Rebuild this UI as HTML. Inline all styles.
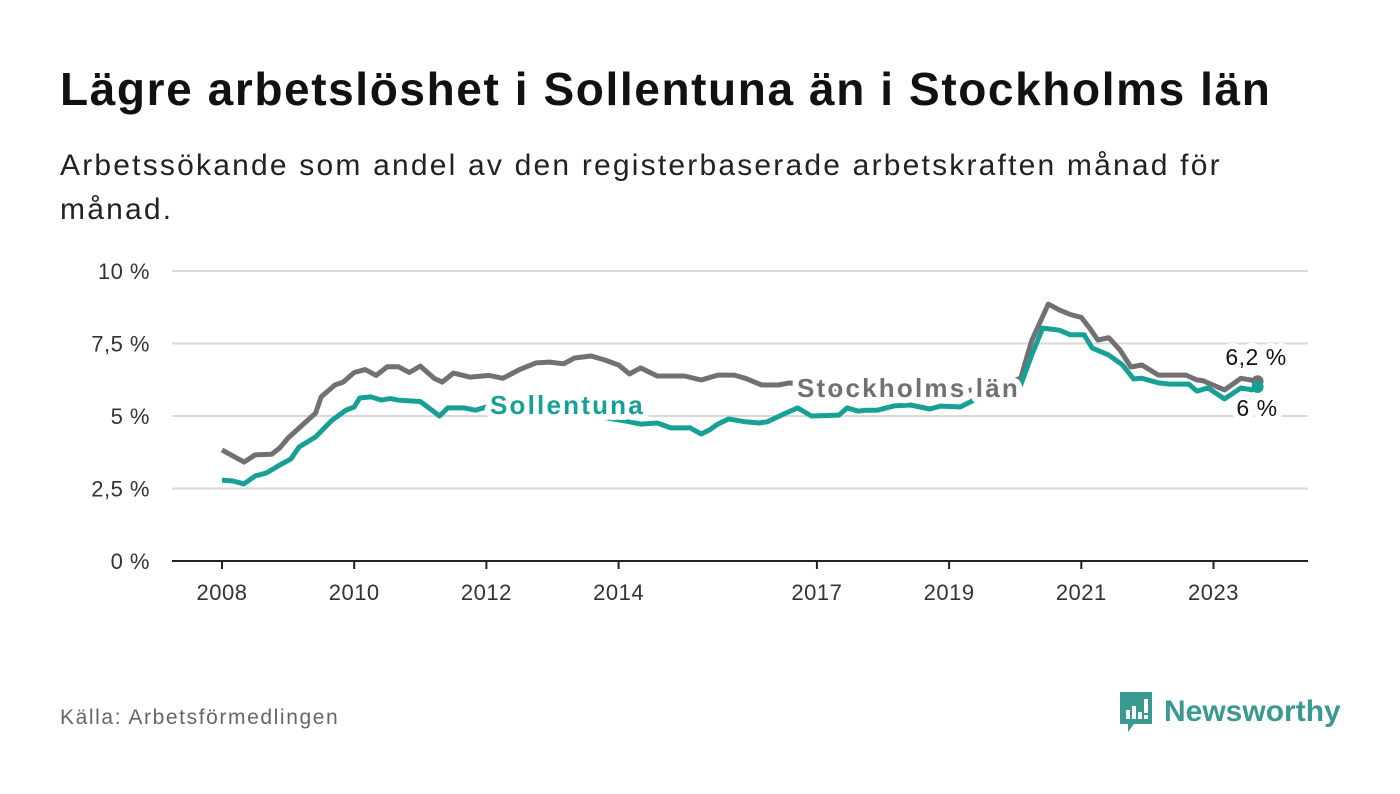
<!DOCTYPE html>
<html><head><meta charset="utf-8"><style>
body{margin:0;background:#fff;width:1400px;height:794px;overflow:hidden;font-family:"Liberation Sans",sans-serif}
h1{position:absolute;left:60px;top:62px;margin:0;font-size:46px;font-weight:bold;color:#111;letter-spacing:1.6px;white-space:nowrap}
.sub{position:absolute;left:60px;top:144px;width:1330px;font-size:30px;line-height:44px;color:#222;letter-spacing:2.2px;white-space:nowrap}
.src{position:absolute;left:60px;top:706px;font-size:21px;color:#666;letter-spacing:1.6px}
.logo{position:absolute;left:1118px;top:690px;display:flex;align-items:center}
.logo span{font-size:30px;font-weight:bold;color:#3a9a92;margin-left:10px}
svg text{font-family:"Liberation Sans",sans-serif}
</style></head><body>
<h1>Lägre arbetslöshet i Sollentuna än i Stockholms län</h1>
<div class="sub">Arbetssökande som andel av den registerbaserade arbetskraften månad för<br>månad.</div>
<svg id="chart" width="1400" height="794" style="position:absolute;left:0;top:0"></svg>
<div class="src">Källa: Arbetsförmedlingen</div>
<div class="logo">
<svg width="36" height="44" viewBox="0 0 36 44"><path d="M2 2h32v32H16l-6 8v-8H2z" fill="#3a9a92"/><rect x="8" y="20" width="4" height="9" fill="#fff"/><rect x="14" y="16" width="4" height="13" fill="#fff"/><rect x="20" y="22" width="4" height="7" fill="#fff"/><rect x="26" y="9" width="4" height="14" fill="#fff"/><rect x="26" y="25" width="4" height="4" fill="#fff"/></svg>
<span>Newsworthy</span></div>
<script>
const yTicks=[0,2.5,5,7.5,10];
const yTickLabels=["0 %","2,5 %","5 %","7,5 %","10 %"];
const xTicks=[2008,2010,2012,2014,2017,2019,2021,2023];
const sthlmMonths=[0,4,6,9,10.5,12,15,17,18,20.5,22,24,26,28,30,32,34,36,38.5,40,42,45,48.5,51,54,57,59.5,62,64,67,69.5,72,74,76,79,84,87,90,93,95,98,101,103,108,114,120,126,132,140,145,147,150,152,154,156,157.5,159,161,163,165,167,170,175,177,178,182,185,188];
const sthlmValues=[3.83,3.41,3.66,3.68,3.9,4.24,4.76,5.1,5.66,6.07,6.17,6.5,6.6,6.4,6.7,6.7,6.5,6.72,6.3,6.17,6.48,6.34,6.4,6.3,6.6,6.83,6.86,6.8,7.0,7.07,6.93,6.76,6.45,6.66,6.38,6.38,6.24,6.41,6.41,6.3,6.07,6.07,6.14,6.0,5.9,5.8,5.7,5.8,6.0,6.3,7.6,8.86,8.66,8.5,8.4,8.03,7.62,7.7,7.28,6.69,6.76,6.41,6.41,6.24,6.22,5.9,6.3,6.2];
const sollMonths=[0,2,4,6,8,10.5,12.5,14,17,20,22.5,24,25,27,29,30.5,32,34,36,39.5,41,44,46,48,52,56,62,68,74,76,79,81.5,85,87,88.5,90,92,95,97.5,99,102,104.5,107,112,113.5,115.5,117,119,122,125,128.5,130.5,134,136.5,140,145,147,149,152,154,156.5,158,161,163.5,165.5,167,170,172,175.5,177,179,182,185,187,188];
const sollValues=[2.79,2.76,2.66,2.93,3.03,3.31,3.52,3.93,4.28,4.86,5.2,5.31,5.62,5.66,5.55,5.6,5.55,5.52,5.5,5.0,5.28,5.28,5.2,5.31,5.2,5.2,5.1,5.0,4.8,4.72,4.76,4.59,4.59,4.38,4.52,4.72,4.9,4.8,4.76,4.8,5.07,5.28,5.0,5.03,5.28,5.17,5.2,5.2,5.35,5.38,5.24,5.34,5.31,5.55,5.7,6.07,7.1,8.03,7.96,7.8,7.8,7.34,7.1,6.76,6.28,6.3,6.14,6.1,6.1,5.86,5.97,5.59,5.97,5.9,6.0];
const svg=document.getElementById('chart'),NS='http://www.w3.org/2000/svg';
const X0=172,X1=1308,Y0=561;
const xm=m=>222+m*66.1/12, xy=yr=>xm((yr-2008)*12), y=v=>Y0-v*29;
function mk(t,a,p){const e=document.createElementNS(NS,t);for(const k in a)e.setAttribute(k,a[k]);(p||svg).appendChild(e);return e;}
yTicks.forEach((v,i)=>{
 const l=mk('line',{x1:X0,x2:X1,y1:y(v),y2:y(v),stroke:v===0?'#222':'#d9d9d9','stroke-width':2});
 
 
 const t=mk('text',{x:150,y:y(v)+8,'text-anchor':'end','font-size':22,fill:'#333','letter-spacing':0.5});t.textContent=yTickLabels[i];
 
 
});
xTicks.forEach(yr=>{
 const l=mk('line',{x1:xy(yr),x2:xy(yr),y1:Y0,y2:Y0+8,stroke:'#222','stroke-width':2});
 
 
 const t=mk('text',{x:xy(yr),y:600,'text-anchor':'middle','font-size':22,fill:'#333','letter-spacing':0.5});t.textContent=yr;
 
 
});
function line(ms,vs,col,name){
 const d=ms.map((m,i)=>(i?'L':'M')+xm(m).toFixed(1)+','+y(vs[i]).toFixed(1)).join('');
 const p=mk('path',{d:d,fill:'none',stroke:col,'stroke-width':5,'stroke-linejoin':'round'});
 
 
 const last=ms.length-1;
 const c=mk('circle',{cx:xm(ms[last]),cy:y(vs[last]),r:6,fill:col});
 
 
}
line(sthlmMonths,sthlmValues,'#707075','stockholm-line');
line(sollMonths,sollValues,'#17a196','sollentuna-line');
function label(txt,x,yy,col,size,weight,name,anchor,ls){
 const t=mk('text',{x:x,y:yy,'font-size':size,'font-weight':weight,fill:col,stroke:'#fff','stroke-width':12,'paint-order':'stroke','stroke-linejoin':'round','text-anchor':anchor||'start','letter-spacing':ls||0});
 t.textContent=txt;
 
 
}
label('Sollentuna',490,414,'#17a196',26,'bold','sollentuna-label','start',2.2);
label('Stockholms län',797,397,'#707075',26,'bold','stockholm-label','start',2.2);
label('6,2 %',1256,365,'#111',23,'normal','stockholm-end-value','middle',0.5);
label('6 %',1257,416,'#111',23,'normal','sollentuna-end-value','middle',0.5);
</script>
</body></html>
